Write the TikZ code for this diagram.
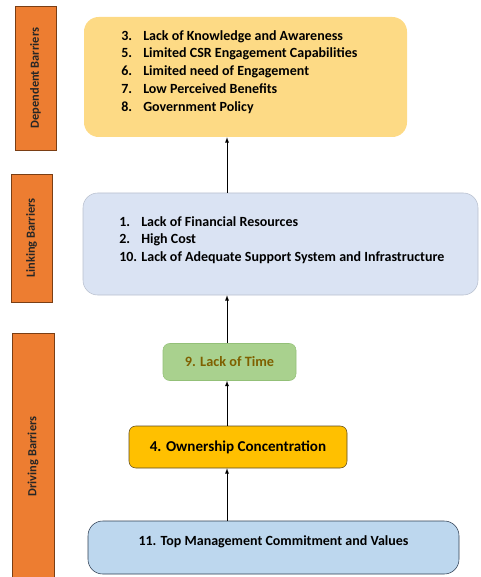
\documentclass[tikz,border=0pt]{standalone}
\usepackage{fontspec}
\setmainfont{Carlito}
\usetikzlibrary{arrows}
\usepackage{xcolor}

\definecolor{sideorange}{HTML}{ED7D31}
\definecolor{sideedge}{HTML}{7A3E14}
\definecolor{depfill}{HTML}{FDDA85}
\definecolor{linkfill}{HTML}{DAE3F3}
\definecolor{linkedge}{HTML}{B8C0CE}
\definecolor{timefill}{HTML}{A9D18E}
\definecolor{timeedge}{HTML}{93C078}
\definecolor{timetext}{HTML}{7F6000}
\definecolor{ownfill}{HTML}{FFC000}
\definecolor{ownedge}{HTML}{5C4A22}
\definecolor{topfill}{HTML}{BDD7EE}
\definecolor{topedge}{HTML}{2F3E52}

\newcommand{\itemno}[1]{\makebox[16.5pt][l]{#1}}

\begin{document}
\begin{tikzpicture}[x=0.75pt,y=-0.75pt,
        sidebox/.style={fill=sideorange, draw=sideedge, rotate=90, font=\fontsize{9.3}{11}\selectfont\bfseries, text=black!85},
        level/.style={rounded corners=11pt},
        arr/.style={-latex, thin, black}]
        \useasboundingbox (0,0) rectangle (480,577);

        % side labels
        \node[sidebox, minimum width=108pt, minimum height=30.75pt] (sdep) at (35.5,78) {Dependent Barriers};
        \node[sidebox, minimum width=96pt, minimum height=30.75pt] (slink) at (31.5,238) {Linking Barriers};
        \node[sidebox, minimum width=185.25pt, minimum height=31.5pt] (sdrive) at (33,456.5) {Driving Barriers};

        % barrier boxes
        \node[level, fill=depfill, minimum width=242.25pt, minimum height=90pt] (dep) at (245.5,77) {};
        \node[level, fill=linkfill, draw=linkedge, minimum width=296.25pt, minimum height=76.5pt] (link) at (280.5,244) {};
        \node[rounded corners=5pt, fill=timefill, draw=timeedge, minimum width=99.75pt, minimum height=27.75pt,
              text=timetext, font=\fontsize{10.7}{12}\selectfont\bfseries] (time) at (229.5,362) {9. Lack of Time};
        \node[rounded corners=5pt, fill=ownfill, draw=ownedge, minimum width=163.5pt, minimum height=31.5pt,
              font=\fontsize{11.3}{13}\selectfont\bfseries] (own) at (238,447) {4. Ownership Concentration};
        \node[level, fill=topfill, draw=topedge, minimum width=278.25pt, minimum height=39.75pt] (top) at (273.5,547.5) {};
        \node[font=\fontsize{10.5}{12}\selectfont\bfseries] (toptext) at (273.5,542) {11. Top Management Commitment and Values};

        % lists
        \node[anchor=north west, inner sep=0pt, align=left, font=\fontsize{10.5}{13.3}\selectfont\bfseries] (deplist) at (121,30) {%
            \itemno{3.}Lack of Knowledge and Awareness\\
            \itemno{5.}Limited CSR Engagement Capabilities\\
            \itemno{6.}Limited need of Engagement\\
            \itemno{7.}Low Perceived Benefits\\
            \itemno{8.}Government Policy};
        \node[anchor=north west, inner sep=0pt, align=left, font=\fontsize{10.5}{13.3}\selectfont\bfseries] (linklist) at (119,216) {%
            \itemno{1.}Lack of Financial Resources\\
            \itemno{2.}High Cost\\
            10. Lack of Adequate Support System and Infrastructure};

        % arrows
        \draw[arr] (top.north -| 227,0) -- (own.south -| 227,0);
        \draw[arr] (own.north -| 227,0) -- (time.south -| 227,0);
        \draw[arr] (time.north -| 227,0) -- (link.south -| 227,0);
        \draw[arr] (link.north -| 227,0) -- (dep.south -| 227,0);
    \end{tikzpicture}
\end{document}
